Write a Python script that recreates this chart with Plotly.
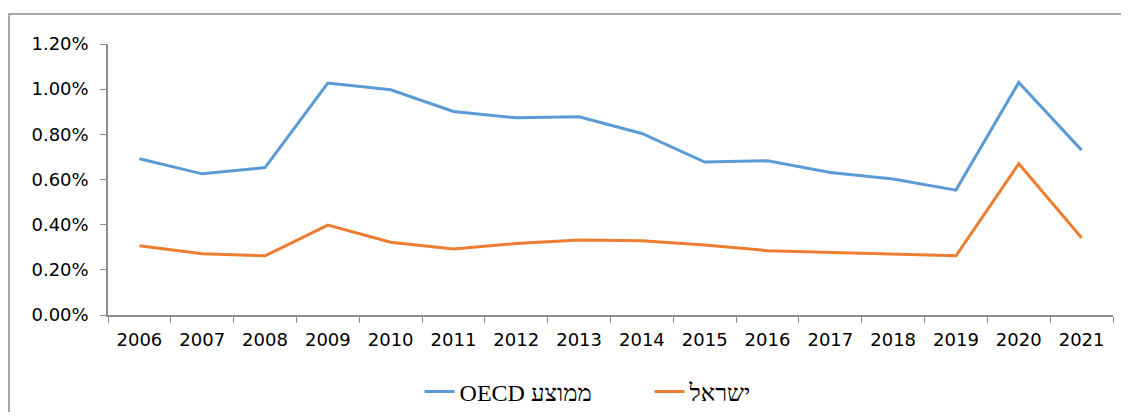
import plotly.graph_objects as go

# נתונים מתוך הגרף (באחוזים)
years = [str(y) for y in range(2006, 2022)]
oecd_avg = [0.692, 0.625, 0.653, 1.027, 0.997, 0.901, 0.873, 0.878, 0.804, 0.677,
            0.683, 0.631, 0.602, 0.553, 1.030, 0.730]
israel = [0.307, 0.271, 0.262, 0.398, 0.322, 0.292, 0.317, 0.332, 0.329, 0.310,
          0.285, 0.277, 0.271, 0.262, 0.670, 0.342]
y_ticks = [0.0, 0.2, 0.4, 0.6, 0.8, 1.0, 1.2]
y_tick_text = [f"{v:.2f}%" for v in y_ticks]

fig = go.Figure()

fig.add_trace(go.Scatter(
    x=years, y=oecd_avg, mode='lines', name='OECD ממוצע',
    line=dict(color='#5B9BD5', width=3)
))
fig.add_trace(go.Scatter(
    x=years, y=israel, mode='lines', name='ישראל',
    line=dict(color='#ED7D31', width=3)
))

axis_font = dict(family='DejaVu Sans', size=18, color='black')

# גודל הדף כולל שולי ה-body (8px) = 1129x420
fig.update_layout(
    width=1113, height=404,
    paper_bgcolor='white', plot_bgcolor='white',
    margin=dict(l=100, r=8, t=36, b=97, autoexpand=False),
    showlegend=True,
    legend=dict(
        orientation='h', xref='paper', x=0.31, xanchor='left',
        yref='container', y=0.0495, yanchor='middle',
        font=dict(family='Liberation Serif', size=24, color='black'),
        entrywidth=185, bgcolor='rgba(0,0,0,0)'
    ),
    xaxis=dict(
        type='category', range=[-0.5, 15.5],
        showline=True, linecolor='#8c8c8c', linewidth=1.5,
        ticks='outside', tickson='boundaries', ticklen=6, tickcolor='#8c8c8c',
        ticklabelstandoff=8,
        showgrid=False, zeroline=False, tickfont=axis_font
    ),
    yaxis=dict(
        range=[0, 1.2], tickvals=y_ticks, ticktext=y_tick_text,
        showline=True, linecolor='#8c8c8c', linewidth=1.5,
        ticks='outside', ticklen=6, tickcolor='#8c8c8c',
        ticklabelstandoff=8,
        showgrid=False, zeroline=False, tickfont=axis_font
    ),
    shapes=[dict(
        type='rect', xref='paper', yref='paper',
        x0=-0.0985, x1=1.05, y0=-0.45, y1=1.111,
        line=dict(color='#8c8c8c', width=1.5), fillcolor='rgba(0,0,0,0)'
    )]
)

fig.write_html("out.html")
